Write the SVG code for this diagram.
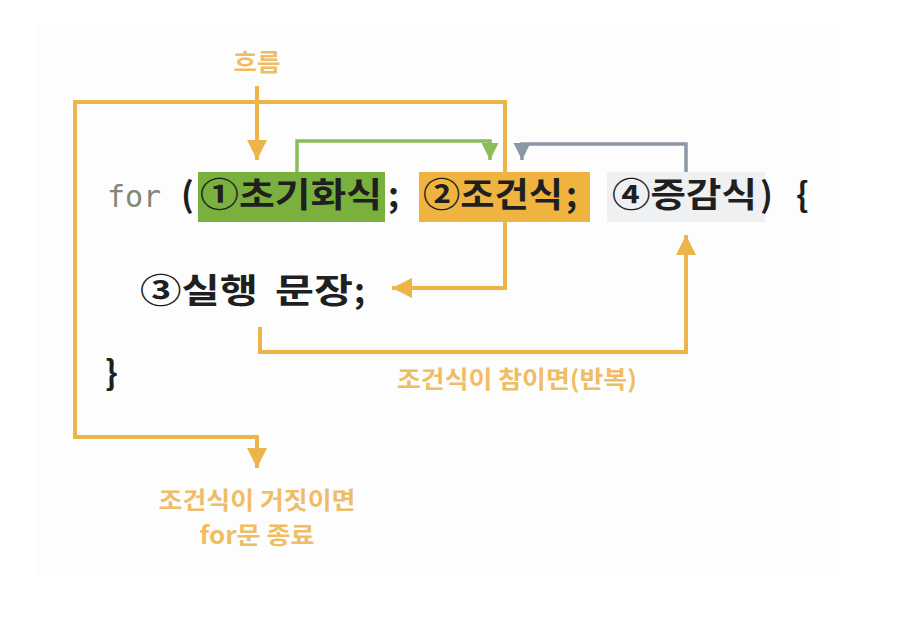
<svg xmlns="http://www.w3.org/2000/svg" width="916" height="632" viewBox="0 0 916 632">
<defs>
<style>
.code{font-family:"Noto Sans CJK KR","DejaVu Sans",sans-serif;font-weight:bold;font-size:34px;fill:#1f1f1f}
.mono{font-family:"DejaVu Sans Mono","Liberation Mono",monospace;font-size:30px}
.lbl{font-family:"Noto Sans CJK KR","Noto Sans",sans-serif;font-weight:bold;font-size:24px;fill:#efbd66;text-anchor:middle}
.or{fill:none;stroke:#ecb449;stroke-width:4}
.gr{fill:none;stroke:#8cbb5a;stroke-width:3.5}
.gy{fill:none;stroke:#8c97a6;stroke-width:3.5}
</style>
<marker id="ao" markerWidth="6" markerHeight="5" refX="5" refY="2.5" orient="auto" markerUnits="strokeWidth"><path d="M0,0 L5,2.5 L0,5 Z" fill="#ecb449"/></marker>
<marker id="ag" markerWidth="6" markerHeight="5" refX="5" refY="2.5" orient="auto" markerUnits="strokeWidth"><path d="M0,0 L5,2.5 L0,5 Z" fill="#8cbb5a"/></marker>
<marker id="ay" markerWidth="6" markerHeight="5" refX="5" refY="2.5" orient="auto" markerUnits="strokeWidth"><path d="M0,0 L5,2.5 L0,5 Z" fill="#8c97a6"/></marker>
</defs>
<rect width="916" height="632" fill="#ffffff"/>
<rect x="37" y="25" width="796" height="550" fill="#fdfdfd"/>

<g id="box-init"><rect x="198" y="172" width="187" height="50" fill="#7ab13e"/></g>
<g id="box-cond"><rect x="419" y="172" width="171" height="50" fill="#efb33f"/></g>
<g id="box-inc"><rect x="607" y="172" width="158" height="50" fill="#eef0f1"/></g>

<g id="connectors">
<path class="or" d="M257,86 V160" marker-end="url(#ao)"/>
<path class="or" d="M257,437 H75 V102 H505 V288 H392" marker-end="url(#ao)"/>
<path class="or" d="M75,437 H257 V468" marker-end="url(#ao)"/>
<path class="gr" d="M297,172 V141 H490 V160" marker-end="url(#ag)"/>
<path class="gy" d="M686,172 V144 H522 V160" marker-end="url(#ay)"/>
<path class="or" d="M260,327 V352 H686 V235" marker-end="url(#ao)"/>
</g>

<g id="line1">
<text class="mono" x="107" y="207" fill="#7f8878">for</text>
<text class="code" x="181" y="207">(</text>
<text class="code" x="200" y="207" textLength="182" lengthAdjust="spacingAndGlyphs">①초기화식</text>
<text class="code" x="388" y="207">;</text>
<text class="code" x="423" y="207" textLength="140" lengthAdjust="spacingAndGlyphs">②조건식</text>
<text class="code" x="566" y="207">;</text>
<text class="code" x="612" y="207" textLength="145" lengthAdjust="spacingAndGlyphs">④증감식</text>
<text class="code" x="760" y="207">)</text>
<text class="code" x="796" y="207">{</text>
</g>
<g id="line2">
<text class="code" x="140" y="303" textLength="118" lengthAdjust="spacingAndGlyphs">③실행</text>
<text class="code" x="275" y="303" textLength="78" lengthAdjust="spacingAndGlyphs">문장</text>
<text class="code" x="354" y="303">;</text>
</g>
<g id="line3"><text class="code" x="105" y="385">}</text></g>

<g id="label-flow"><text class="lbl" x="257" y="71" textLength="47" lengthAdjust="spacingAndGlyphs">흐름</text></g>
<g id="label-true"><text class="lbl" x="517" y="388" textLength="240" lengthAdjust="spacingAndGlyphs">조건식이 참이면(반복)</text></g>
<g id="label-false">
<text class="lbl" x="257" y="509" textLength="197" lengthAdjust="spacingAndGlyphs">조건식이 거짓이면</text>
<text class="lbl" x="257" y="544" textLength="115" lengthAdjust="spacingAndGlyphs">for문 종료</text>
</g>
</svg>
